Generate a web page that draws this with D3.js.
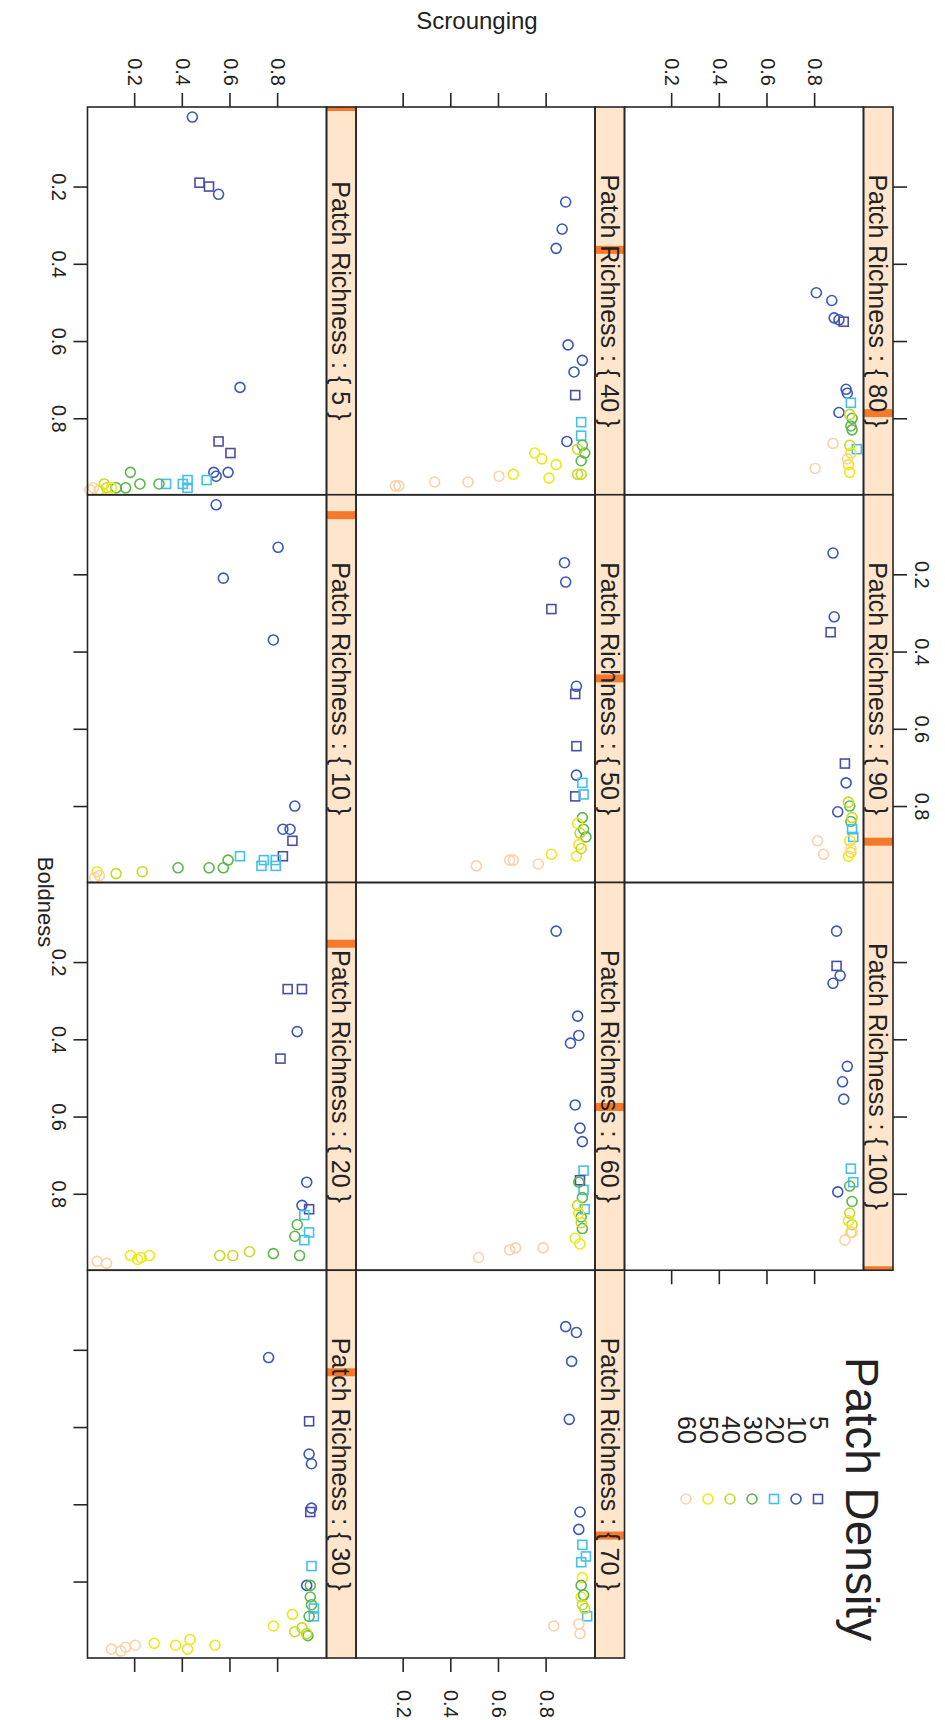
<!DOCTYPE html>
<html>
<head>
<meta charset="utf-8">
<script src="https://cdn.jsdelivr.net/npm/d3@7"></script>
<style>
  body { margin: 0; background: #fff; }
  text { font-family: "Liberation Sans", Arial, sans-serif; fill: #222; }
</style>
</head>
<body>
<svg id="chart" width="945" height="1720"></svg>
<script>
// Patch Richness levels, one panel each
const richness = [5, 10, 20, 30, 40, 50, 60, 70, 80, 90, 100]
// Patch Density groups
const density = [5, 10, 20, 30, 40, 50, 60]
const densityColors = ['#4a4fa5', '#3a58b8', '#45c0ea', '#5bb849', '#c8d92a', '#f1e717', '#fdd0a8']
const densityShape = ['square', 'circle', 'square', 'circle', 'circle', 'circle', 'circle']
const boldTicks = [0.2, 0.4, 0.6, 0.8]
const scroungeTicks = [0.2, 0.4, 0.6, 0.8]

// points: [boldness, scrounging, density index]
const pr5 = [[0.02,0.44,1],[0.19,0.47,0],[0.20,0.51,0],[0.22,0.55,1],[0.72,0.64,1],[0.86,0.55,0],[0.89,0.60,0],
  [0.94,0.53,1],[0.95,0.54,1],[0.94,0.59,1],[0.96,0.50,2],[0.96,0.42,2],[0.97,0.40,2],[0.98,0.42,2],[0.97,0.33,2],
  [0.97,0.30,3],[0.97,0.22,3],[0.94,0.18,3],[0.98,0.16,3],[0.98,0.12,3],[0.98,0.08,4],[0.97,0.07,4],
  [0.98,0.10,5],[0.985,0.05,5],[0.98,0.025,6],[0.985,0.01,6]]
const pr10 = [[0.02,0.54,1],[0.13,0.80,1],[0.21,0.57,1],[0.37,0.78,1],[0.80,0.87,1],[0.86,0.82,1],[0.86,0.85,1],
  [0.89,0.86,0],[0.93,0.82,0],[0.94,0.74,2],[0.94,0.79,2],[0.955,0.73,2],[0.955,0.79,2],[0.93,0.64,2],
  [0.94,0.59,3],[0.96,0.57,3],[0.96,0.51,3],[0.96,0.38,3],[0.97,0.23,4],[0.975,0.12,4],[0.97,0.04,5],
  [0.98,0.05,6],[0.985,0.03,6]]
const pr20 = [[0.27,0.84,0],[0.27,0.90,0],[0.38,0.88,1],[0.45,0.81,0],[0.77,0.92,1],[0.83,0.90,1],[0.84,0.93,0],
  [0.855,0.91,2],[0.90,0.93,2],[0.92,0.91,2],[0.88,0.88,3],[0.91,0.87,3],[0.96,0.89,3],[0.955,0.78,3],
  [0.95,0.68,4],[0.96,0.61,4],[0.96,0.555,4],[0.96,0.18,5],[0.97,0.21,5],[0.96,0.26,5],[0.965,0.225,5],
  [0.975,0.04,6],[0.98,0.08,6]]
const pr30 = [[0.22,0.76,1],[0.385,0.93,0],[0.47,0.93,1],[0.495,0.94,1],[0.61,0.94,1],[0.62,0.935,0],
  [0.76,0.94,2],[0.81,0.92,1],[0.81,0.935,3],[0.84,0.935,3],[0.86,0.94,3],[0.87,0.95,2],[0.89,0.95,2],
  [0.89,0.93,3],[0.94,0.925,3],[0.885,0.86,5],[0.915,0.78,5],[0.93,0.87,4],[0.92,0.90,4],[0.935,0.92,4],
  [0.965,0.535,5],[0.95,0.43,5],[0.975,0.42,5],[0.965,0.37,5],[0.96,0.28,5],
  [0.965,0.20,6],[0.97,0.16,6],[0.98,0.14,6],[0.975,0.10,6]]
const pr40 = [[0.24,0.88,1],[0.31,0.865,1],[0.36,0.84,1],[0.61,0.89,1],[0.65,0.95,1],[0.68,0.915,1],[0.74,0.92,0],
  [0.86,0.885,1],[0.81,0.945,2],[0.845,0.945,2],[0.87,0.95,3],[0.89,0.96,3],[0.91,0.945,3],
  [0.88,0.93,4],[0.945,0.93,4],[0.945,0.945,4],[0.89,0.75,5],[0.905,0.78,5],[0.92,0.84,5],[0.955,0.81,5],
  [0.945,0.66,5],[0.95,0.60,6],[0.965,0.47,6],[0.965,0.33,6],[0.975,0.18,6],[0.975,0.165,6]]
const pr50 = [[0.17,0.875,1],[0.22,0.88,1],[0.29,0.82,0],[0.49,0.925,1],[0.51,0.92,0],[0.645,0.925,0],[0.72,0.925,1],
  [0.775,0.92,0],[0.74,0.95,2],[0.77,0.955,2],[0.83,0.95,3],[0.88,0.965,3],[0.86,0.955,3],
  [0.845,0.93,5],[0.90,0.935,5],[0.93,0.925,5],[0.925,0.82,5],[0.87,0.94,4],[0.91,0.945,4],
  [0.95,0.765,6],[0.94,0.645,6],[0.94,0.66,6],[0.955,0.505,6]]
const pr60 = [[0.12,0.84,1],[0.34,0.93,1],[0.39,0.935,1],[0.41,0.90,1],[0.57,0.92,1],[0.63,0.94,1],[0.665,0.95,1],
  [0.74,0.955,2],[0.79,0.955,2],[0.84,0.96,2],[0.765,0.94,0],[0.77,0.935,3],[0.81,0.95,3],[0.86,0.945,3],
  [0.89,0.95,3],[0.83,0.93,4],[0.875,0.945,4],[0.85,0.935,5],[0.915,0.92,5],[0.93,0.94,5],
  [0.94,0.785,6],[0.94,0.67,6],[0.945,0.645,6],[0.965,0.515,6]]
const pr70 = [[0.14,0.88,1],[0.155,0.925,1],[0.23,0.905,1],[0.38,0.895,1],[0.62,0.94,1],[0.665,0.935,1],
  [0.705,0.95,2],[0.735,0.965,2],[0.75,0.945,2],[0.89,0.97,2],[0.79,0.95,5],[0.84,0.945,5],
  [0.81,0.945,3],[0.835,0.955,3],[0.86,0.95,4],[0.87,0.96,4],[0.915,0.83,6],[0.91,0.935,6],[0.935,0.94,6]]
const pr80 = [[0.475,0.805,1],[0.495,0.87,1],[0.54,0.88,1],[0.545,0.90,1],[0.55,0.92,0],[0.725,0.93,1],
  [0.735,0.935,1],[0.785,0.90,1],[0.76,0.95,2],[0.88,0.975,2],[0.80,0.955,3],[0.82,0.95,3],[0.83,0.955,3],
  [0.79,0.945,4],[0.87,0.945,4],[0.89,0.95,5],[0.94,0.945,5],[0.92,0.94,5],
  [0.865,0.875,6],[0.93,0.80,6],[0.905,0.935,6]]
const pr90 = [[0.145,0.875,1],[0.31,0.88,1],[0.35,0.865,0],[0.69,0.925,0],[0.74,0.93,1],[0.815,0.895,1],
  [0.80,0.945,3],[0.84,0.95,3],[0.79,0.94,4],[0.83,0.955,4],[0.86,0.955,2],[0.88,0.96,2],
  [0.89,0.945,5],[0.92,0.95,5],[0.93,0.94,5],[0.89,0.81,6],[0.925,0.835,6],[0.91,0.95,6]]
const pr100 = [[0.12,0.89,1],[0.21,0.89,0],[0.235,0.905,1],[0.255,0.875,1],[0.47,0.935,1],[0.51,0.915,1],
  [0.555,0.92,1],[0.735,0.95,2],[0.77,0.96,2],[0.795,0.895,1],[0.78,0.945,3],[0.82,0.955,3],
  [0.85,0.945,4],[0.88,0.955,4],[0.87,0.94,5],[0.90,0.95,5],[0.92,0.925,6],[0.90,0.955,6]]
const panelPoints = [pr5, pr10, pr20, pr30, pr40, pr50, pr60, pr70, pr80, pr90, pr100]

// the lattice plot is drawn landscape, then turned a quarter clockwise
const svg = d3.select('#chart')
const g = svg.append('g').attr('transform', 'translate(945,0) rotate(90)')

const colW = 387.75
const panelH = 239
const stripH = 29.5
const plotLeft = 107
const plotTop = 52
const tick = 14
const frame = '#262626'

const panelBox = (i) => {
  const col = i % 4
  const row = 2 - Math.floor(i / 4)
  const x0 = plotLeft + col * colW
  const sy = plotTop + row * (stripH + panelH)
  return { col, row, x0, sy, y0: sy + stripH }
}

const drawSymbol = (sel, cx, cy, k) => {
  if (densityShape[k] === 'square') {
    sel.append('rect')
      .attr('x', cx - 4.5).attr('y', cy - 4.5).attr('width', 9).attr('height', 9)
      .attr('fill', 'none').attr('stroke', densityColors[k]).attr('stroke-width', 1.6)
  } else {
    sel.append('circle')
      .attr('cx', cx).attr('cy', cy).attr('r', 5)
      .attr('fill', 'none').attr('stroke', densityColors[k]).attr('stroke-width', 1.6)
  }
}

richness.forEach((r, i) => {
  const b = panelBox(i)
  const x = d3.scaleLinear().domain([-0.006, 0.998]).range([b.x0, b.x0 + colW])
  const y = d3.scaleLinear().domain([0, 1.003]).range([b.y0 + panelH, b.y0])
  const p = g.append('g')

  // strip
  p.append('rect')
    .attr('x', b.x0).attr('y', b.sy).attr('width', colW).attr('height', stripH)
    .attr('fill', '#ffe5cc')
  const sx = d3.scaleLinear().domain([richness[0], richness[richness.length - 1]]).range([b.x0, b.x0 + colW])
  const bx1 = Math.max(b.x0, sx(r) - 4)
  const bx2 = Math.min(b.x0 + colW, sx(r) + 4)
  p.append('rect')
    .attr('x', bx1).attr('y', b.sy).attr('width', bx2 - bx1).attr('height', stripH)
    .attr('fill', '#f5792a')
  p.append('rect')
    .attr('x', b.x0).attr('y', b.sy).attr('width', colW).attr('height', stripH)
    .attr('fill', 'none').attr('stroke', frame).attr('stroke-width', 1.6)
  p.append('text')
    .attr('x', b.x0 + colW / 2).attr('y', b.sy + stripH / 2 + 9)
    .attr('text-anchor', 'middle').style('font-size', '25px')
    .text(`Patch Richness : { ${r} }`)

  // points
  const pts = p.append('g')
  panelPoints[i].forEach((d) => drawSymbol(pts, x(d[0]), y(d[1]), d[2]))

  p.append('rect')
    .attr('x', b.x0).attr('y', b.y0).attr('width', colW).attr('height', panelH)
    .attr('fill', 'none').attr('stroke', frame).attr('stroke-width', 1.6)

  // bottom axis
  if (b.row === 2) {
    const ax = d3.axisBottom(x).tickValues(boldTicks).tickSize(tick).tickPadding(7)
      .tickFormat(b.col % 2 === 0 ? d3.format('.1f') : '')
    p.append('g').attr('transform', `translate(0,${b.y0 + panelH})`).call(ax)
  }
  // top axis
  if (b.row === 0) {
    const ax = d3.axisTop(x).tickValues(boldTicks).tickSize(tick).tickPadding(8)
      .tickFormat(b.col % 2 === 1 ? d3.format('.1f') : '')
    p.append('g').attr('transform', `translate(0,${b.sy})`).call(ax)
  }
  // left axis
  if (b.col === 0) {
    const ax = d3.axisLeft(y).tickValues(scroungeTicks).tickSize(tick).tickPadding(7)
      .tickFormat(b.row !== 1 ? d3.format('.1f') : '')
    p.append('g').attr('transform', `translate(${b.x0},0)`).call(ax)
  }
  // right axis on the last panel of each row
  const lastInRow = b.row === 0 ? i === richness.length - 1 : b.col === 3
  if (lastInRow) {
    const ax = d3.axisRight(y).tickValues(scroungeTicks).tickSize(tick).tickPadding(18)
      .tickFormat(b.row === 1 ? d3.format('.1f') : '')
    p.append('g').attr('transform', `translate(${b.x0 + colW},0)`).call(ax)
  }
})

g.selectAll('.domain').remove()
g.selectAll('.tick line').attr('stroke', frame).attr('stroke-width', 1.6)
g.selectAll('.tick text')
  .style('font-size', '20px')
  .style('font-family', '"Liberation Sans", Arial, sans-serif')
  .attr('fill', '#222')

// axis titles
g.append('text')
  .attr('x', 902).attr('y', 907)
  .attr('text-anchor', 'middle').style('font-size', '22px')
  .text('Boldness')
g.append('text')
  .attr('transform', 'translate(29,468) rotate(-90)')
  .attr('text-anchor', 'middle').style('font-size', '24px')
  .text('Scrounging')

// legend
const legend = g.append('g')
legend.append('text')
  .attr('x', 1499).attr('y', 99)
  .attr('text-anchor', 'middle').style('font-size', '46px')
  .text('Patch Density')
density.forEach((d, k) => {
  const yy = 127 + k * 22
  legend.append('text')
    .attr('x', 1416).attr('y', yy + 8.5)
    .style('font-size', '25px')
    .text(d)
  drawSymbol(legend, 1499, yy, k)
})
</script>
</body>
</html>
